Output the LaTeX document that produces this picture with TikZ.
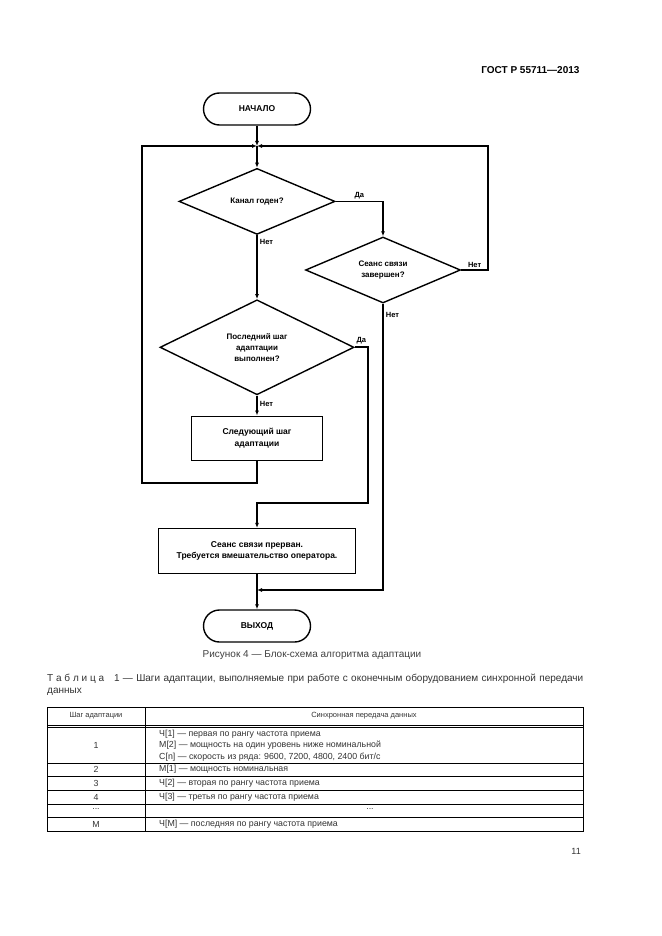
\documentclass[tikz,border=0pt]{standalone}
\usepackage{fontspec}
\setmainfont{Liberation Sans}
\usetikzlibrary{positioning,arrows.meta,shapes.geometric}

\begin{document}
\begin{tikzpicture}[x=1pt,y=-1pt,
			term/.style={
				draw,
				rectangle,
				rounded corners=16pt,
				line width=1.4pt,
				minimum width=107pt,
				minimum height=32pt,
				font=\fontsize{8.5}{9.5}\selectfont\bfseries
			},
			block/.style={
				draw,
				rectangle,
				line width=1.4pt,
				align=center,
				font=\fontsize{8.5}{11.5}\selectfont\bfseries
			},
			test/.style={
				draw,
				diamond,
				aspect=2,
				inner sep=0pt,
				line width=1.4pt,
				align=center,
				font=\fontsize{8}{11}\selectfont\bfseries
			},
			lbl/.style={
				font=\fontsize{7.5}{9}\selectfont\bfseries,
				inner sep=2pt
			},
			arrow/.style={
				line width=1.8pt,
				-{Latex[length=5pt,width=4pt]}
			},
			cell/.style={
				font=\fontsize{8.8}{11}\selectfont,
				text=black!80,
				inner sep=0pt
			}
			]
			
			\useasboundingbox[fill=white] (0,0) rectangle (661,936);
			
			% Header
			\node[anchor=east, font=\fontsize{10}{12}\selectfont\bfseries] (gost) at (583,70) {ГОСТ Р 55711—2013};
			
			% Nodes
			\node[term] (start) at (257,109) {НАЧАЛО};
			\node[test, minimum width=156pt, minimum height=66pt, below=42pt of start] (chk) {Канал годен?};
			\node[test, minimum width=155pt, minimum height=66pt] (done) at (383,270) {Сеанс связи\\завершен?};
			\node[test, minimum width=194pt, minimum height=95pt, below=64pt of chk] (last) {Последний шаг\\адаптации\\выполнен?};
			\node[block, minimum width=131pt, minimum height=44pt, below=20pt of last] (next) {Следующий шаг\\адаптации};
			\node[block, minimum width=197pt, minimum height=45pt, below=67pt of next] (brk) {Сеанс связи прерван.\\Требуется вмешательство оператора.};
			\node[term, below=35pt of brk] (exit) {ВЫХОД};
			
			\coordinate (j) at (257,146);
			\coordinate (lp) at (142,146);
			\coordinate (rp) at (488,146);
			\coordinate (yes) at (368,503);
			\coordinate (xj) at (257,590);
			
			% Arrows
			\draw[arrow] (start) -- (j);
			\draw[arrow] (j) -- (chk.north);
			\draw[arrow] (chk.east) -| node[lbl, pos=0.25, above] {Да} (done.north);
			\draw[arrow] (done.east) -| node[lbl, pos=0.25, above] {Нет} (rp) -- (j);
			\draw[arrow] (chk.south) -- node[lbl, pos=0.1, right] {Нет} (last.north);
			\draw[arrow] (last.south) -- node[lbl, pos=0.4, right] {Нет} (next.north);
			\draw[arrow] (next.south) -- ++(0,22) -| (lp) -- (j);
			\draw[arrow] (last.east) -| node[lbl, pos=0.25, above] {Да} (yes) -| (brk.north);
			\draw[arrow] (done.south) |- node[lbl, pos=0.02, right] {Нет} (xj);
			\draw[arrow] (brk.south) -- (exit.north);
			
			\node[font=\fontsize{10}{12}\selectfont, text=black!75] (fig) at (312,655) {Рисунок 4 — Блок-схема алгоритма адаптации};
			
			% Table
			\node[anchor=north west, text width=536pt, align=justify, inner sep=0pt, font=\fontsize{10}{12}\selectfont, text=black!80] (tcap) at (47,674) {Т\hspace{2.8pt}а\hspace{2.8pt}б\hspace{2.8pt}л\hspace{2.8pt}и\hspace{2.8pt}ц\hspace{2.8pt}а\quad 1 — Шаги адаптации, выполняемые при работе с оконечным оборудованием синхронной передачи\linebreak данных};
			
			\draw[line width=0.9pt] (47,707) rectangle (583,831);
			\draw[line width=0.9pt] (145,707) -- (145,831);
			\draw[line width=0.9pt] (47,725.5) -- (583,725.5) (47,727.8) -- (583,727.8);
			\foreach \y in {763,776,790,804,817}
				\draw[line width=0.9pt] (47,\y) -- (583,\y);
			
			\node[cell, font=\fontsize{7.5}{9}\selectfont] (h1) at (96,716) {Шаг адаптации};
			\node[cell, font=\fontsize{7.5}{9}\selectfont] (h2) at (364,716) {Синхронная передача данных};
			
			\node[cell] (s1) at (96,745.5) {1};
			\node[cell, anchor=west] (r1a) at (159,734) {Ч[1] — первая по рангу частота приема};
			\node[cell, anchor=west] (r1b) at (159,745.5) {М[2] — мощность на один уровень ниже номинальной};
			\node[cell, anchor=west] (r1c) at (159,757) {С[n] — скорость из ряда: 9600, 7200, 4800, 2400 бит/с};
			
			\foreach \y/\s/\t in {769.5/2/{М[1] — мощность номинальная},
					783/3/{Ч[2] — вторая по рангу частота приема},
					797/4/{Ч[3] — третья по рангу частота приема},
					824/М/{Ч[М] — последняя по рангу частота приема}}{
				\node[cell] at (96,\y) {\s};
				\node[cell, anchor=west] at (159,\y) {\t};
			}
			\node[cell] (d1) at (96,809) {...};
			\node[cell] (d2) at (370,809) {...};
			
			\node[cell, anchor=east, font=\fontsize{9}{11}\selectfont] (page) at (581,851) {11};
			
		\end{tikzpicture}
\end{document}
